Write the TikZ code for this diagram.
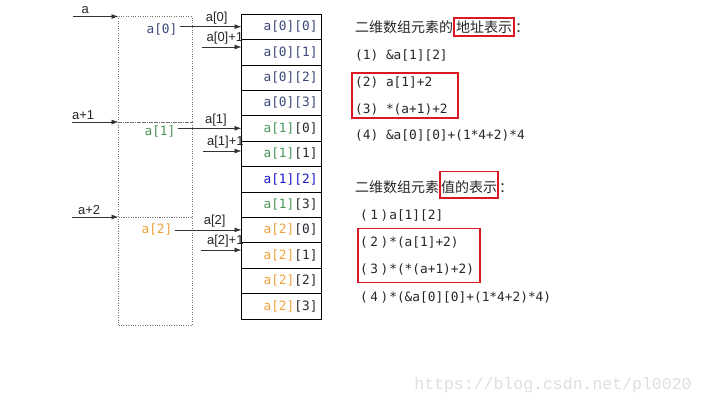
\documentclass[tikz,border=0pt]{standalone}
\usepackage{fontspec}
\setmainfont{Liberation Sans}
\setmonofont{DejaVu Sans Mono}
\newfontfamily\cjk{Noto Sans CJK SC}
\newfontfamily\wmfont{Liberation Mono}
\usetikzlibrary {positioning}
\usetikzlibrary {fit}
\usetikzlibrary {arrows.meta}
\definecolor{rowA}{RGB}{59,72,122}
\definecolor{rowB}{RGB}{72,150,88}
\definecolor{rowC}{RGB}{240,160,60}
\definecolor{hl}{RGB}{25,25,205}
\definecolor{idx}{RGB}{40,40,50}
\definecolor{boxred}{RGB}{220,25,35}
\newcommand{\cell}[3]{\textcolor{#1}{a[#2]}[#3]}
\newcommand{\paren}[1]{(\hspace{2.5pt}#1\hspace{2.5pt})\hspace{1pt}}

\begin{document}
\begin{tikzpicture}
	[x=1pt,y=-1pt,>={Latex[length=7pt,width=5pt]},
	ptr/.style={rectangle,draw=black!55,dotted,minimum width=73.5pt,inner sep=0,outer sep=0},
	cell/.style={rectangle,draw,minimum width=80pt,minimum height=25.4pt,text width=72pt,align=right,inner sep=4pt,outer sep=0,font=\fontsize{12.8}{14}\ttfamily,text=idx},
	lbl/.style={font=\fontsize{13}{15}\selectfont,inner sep=2pt,text=black!85},
	tag/.style={font=\fontsize{12.8}{14}\ttfamily,inner sep=2pt},
	code/.style={anchor=west,inner sep=0,font=\fontsize{12.8}{14}\ttfamily,text=black!85},
	head/.style={inner sep=0,font=\cjk\fontsize{14}{16}\selectfont,text=black!85},
	redbox/.style={draw=boxred,line width=1.6pt},
	conn/.style={->,draw=black!80,line width=0.8pt}]
	\useasboundingbox (0,0) rectangle (705,405);
	% pointer array
	\node[ptr,minimum height=105.5pt] (p0) at (155.25,69.25) {};
	\node[ptr,minimum height=95pt]    (p1) [below=0pt of p0] {};
	\node[ptr,minimum height=108pt]   (p2) [below=0pt of p1] {};
	\node[tag,text=rowA] (l0) at (162,29)  {a[0]};
	\node[tag,text=rowB] (l1) at (160,131) {a[1]};
	\node[tag,text=rowC] (l2) at (157,229) {a[2]};
	% elements
	\node[cell] (c00) at (281.5,26.7) {\textcolor{rowA}{a[0][0]}};
	\node[cell] (c01) [below=0pt of c00] {\textcolor{rowA}{a[0][1]}};
	\node[cell] (c02) [below=0pt of c01] {\textcolor{rowA}{a[0][2]}};
	\node[cell] (c03) [below=0pt of c02] {\textcolor{rowA}{a[0][3]}};
	\node[cell] (c10) [below=0pt of c03] {\cell{rowB}{1}{0}};
	\node[cell] (c11) [below=0pt of c10] {\cell{rowB}{1}{1}};
	\node[cell,text=hl] (c12) [below=0pt of c11] {a[1][2]};
	\node[cell] (c13) [below=0pt of c12] {\cell{rowB}{1}{3}};
	\node[cell] (c20) [below=0pt of c13] {\cell{rowC}{2}{0}};
	\node[cell] (c21) [below=0pt of c20] {\cell{rowC}{2}{1}};
	\node[cell] (c22) [below=0pt of c21] {\cell{rowC}{2}{2}};
	\node[cell] (c23) [below=0pt of c22] {\cell{rowC}{2}{3}};
	% pointers
	\coordinate (in0) at (73,16.5);
	\coordinate (in1) at (72,122);
	\coordinate (in2) at (72,217);
	\coordinate (s0) at (202,47);
	\coordinate (s1) at (203,151);
	\coordinate (s2) at (201,250);
	\draw[conn] (in0) -- node[lbl,above,pos=0.27] {a} (p0.north west);
	\draw[conn] (in1) -- node[lbl,above,pos=0.24] {a+1} (p1.north west);
	\draw[conn] (in2) -- node[lbl,above,pos=0.37] {a+2} (p2.north west);
	\draw[conn] (c00.west -| l0.east) -- node[lbl,above,pos=0.6] {a[0]} (c00.west);
	\draw[conn] (c10.west -| l1.east) -- node[lbl,above,pos=0.6] {a[1]} (c10.west);
	\draw[conn] (c20.west -| l2.east) -- node[lbl,above,pos=0.6] {a[2]} (c20.west);
	\draw[conn] (s0) -- node[lbl,above,pos=0.58] {a[0]+1} (s0 -| c01.west);
	\draw[conn] (s1) -- node[lbl,above,pos=0.58] {a[1]+1} (s1 -| c11.west);
	\draw[conn] (s2) -- node[lbl,above,pos=0.6] {a[2]+1} (s2 -| c21.west);
	% address
	\node[head,anchor=west] (t1a) at (355,27) {二维数组元素的};
	\node[head,redbox,inner xsep=2pt,inner ysep=2.5pt,anchor=base west] (t1b) at (t1a.base east) {地址表示};
	\node[head,anchor=base west] (t1c) at (t1b.base east) {：};
	\node[code] (e11) at (355,55)  {(1) \&a[1][2]};
	\node[code] (e12) at (355,82)  {(2) a[1]+2};
	\node[code] (e13) at (355,109) {(3) *(a+1)+2};
	\node[code] (e14) at (355,135) {(4) \&a[0][0]+(1*4+2)*4};
	\node[redbox,fit=(e12)(e13),inner xsep=6.5pt,inner ysep=3pt,xshift=3.5pt] (b1) {};
	% value
	\node[head,anchor=west] (t2a) at (355,187) {二维数组元素};
	\node[head,redbox,inner xsep=1pt,inner ysep=2pt,text height=19pt,text depth=3.5pt,anchor=base west] (t2b) at (t2a.base east) {值的表示};
	\node[head,anchor=base west] (t2c) at (t2b.base east) {：};
	\node[code] (e21) at (360,215) {\paren{1}a[1][2]};
	\node[code] (e22) at (360,242) {\paren{2}*(a[1]+2)};
	\node[code] (e23) at (360,269) {\paren{3}*(*(a+1)+2)};
	\node[code] (e24) at (360,297) {\paren{4}*(\&a[0][0]+(1*4+2)*4)};
	\node[redbox,fit=(e22)(e23),inner xsep=4pt,inner ysep=7.5pt,xshift=2pt] (b2) {};
	\node[font=\wmfont\fontsize{16.5}{18}\selectfont,text=black!13] (wm) at (553,385) {https://blog.csdn.net/pl0020};
\end{tikzpicture}
\end{document}
